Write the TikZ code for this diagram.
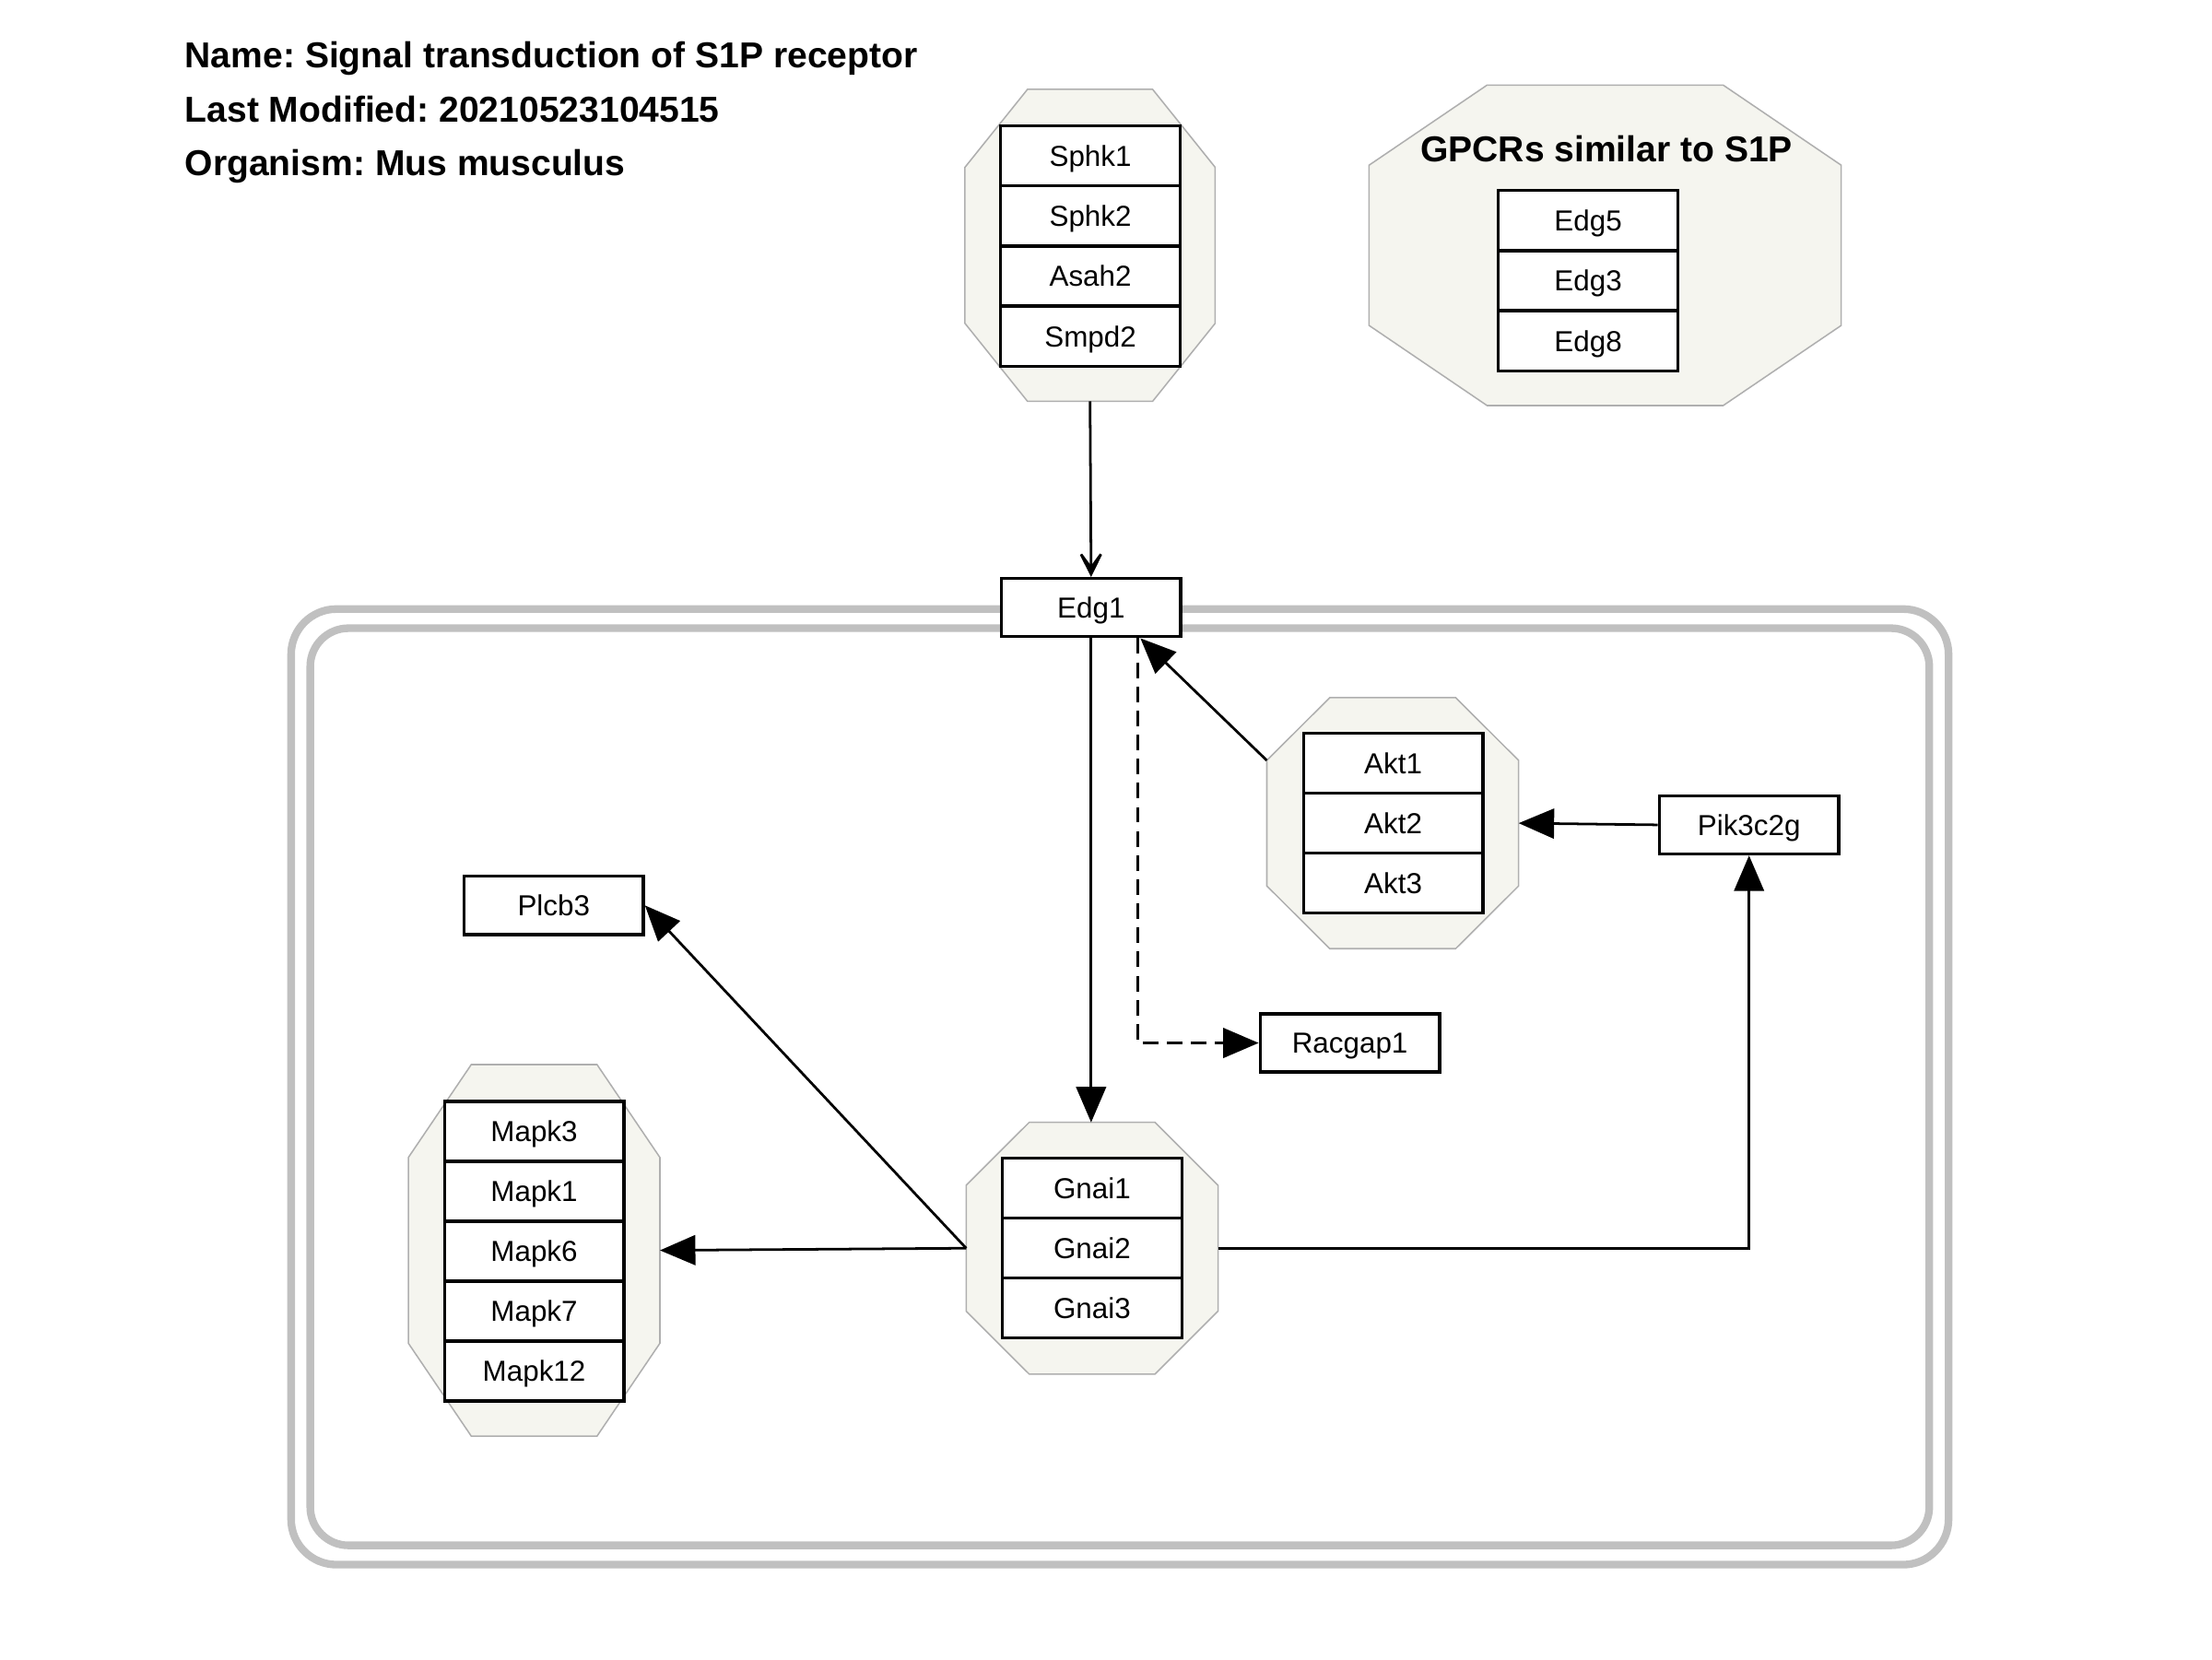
\documentclass[tikz,border=0pt]{standalone}
\usepackage{fontspec}
\setmainfont{Liberation Sans}
\usetikzlibrary{arrows.meta,calc}
\definecolor{membc}{RGB}{192,192,192}
\definecolor{cplxfill}{RGB}{245,245,239}
\definecolor{cplxline}{RGB}{175,175,175}
\newcommand\cplxoct[1]{%
  \path[draw=cplxline,fill=cplxfill,line width=1pt]
    ($(#1.north west)!0.25!(#1.north east)$) --
    ($(#1.north west)!0.75!(#1.north east)$) --
    ($(#1.north east)!0.25!(#1.south east)$) --
    ($(#1.north east)!0.75!(#1.south east)$) --
    ($(#1.south west)!0.75!(#1.south east)$) --
    ($(#1.south west)!0.25!(#1.south east)$) --
    ($(#1.north west)!0.75!(#1.south west)$) --
    ($(#1.north west)!0.25!(#1.south west)$) -- cycle;}
\tikzset{
  gene/.style={draw=black, fill=white, line width=2.2pt, minimum width=126.5pt,
    minimum height=42.3pt, inner sep=0pt, font=\fontsize{20.4}{24}\selectfont,
    text height=14.6pt, text depth=0pt},
  single/.style={gene, minimum height=41pt},
  cplx/.style={inner sep=0pt, outer sep=0pt},
  titletext/.style={anchor=base west, inner sep=0pt, font=\bfseries\fontsize{25.4}{30}\selectfont},
  act/.style={line width=1.8pt, -{Triangle[length=25pt,width=21pt]}},
  conv/.style={line width=1.8pt, -{Stealth[length=25pt,width=25pt,inset=17pt]}},
  memb/.style={draw=membc, line width=5.4pt},
}
\frenchspacing
\begin{document}
\begin{tikzpicture}[x=1pt,y=-1pt]
\useasboundingbox (0,0) rectangle (1560,1170);

% title
\node[titletext] (t1) at (130.3,48) {Name: Signal transduction of S1P receptor};
\node[titletext] (t2) at (130.3,86) {Last Modified: 20210523104515};
\node[titletext] (t3) at (130.3,124) {Organism: Mus musculus};

% membrane
\draw[memb, rounded corners=32pt] (205.3,429.5) rectangle (1374.2,1103.4);
\draw[memb, rounded corners=27pt] (218.8,443) rectangle (1360.6,1089.8);

% complexes
\node[cplx, minimum width=176.5pt, minimum height=220pt] (sphk) at (768.75,173) {};
\node[cplx, minimum width=333pt, minimum height=226pt] (gpcr) at (1132,173) {};
\node[cplx, minimum width=177.6pt, minimum height=177pt] (akt) at (982.2,580.5) {};
\node[cplx, minimum width=177.4pt, minimum height=262pt] (mapk) at (376.7,881.75) {};
\node[cplx, minimum width=177.6pt, minimum height=177.5pt] (gnai) at (770.2,880.25) {};
\cplxoct{sphk}
\cplxoct{gpcr}
\cplxoct{akt}
\cplxoct{mapk}
\cplxoct{gnai}

\node[anchor=base, inner sep=0pt, font=\bfseries\fontsize{25.4}{30}\selectfont] (gpcrlabel) at (1133,114) {GPCRs similar to S1P};

% Sphk complex members
\node[gene] (sphk1) at (769,109.7) {Sphk1};
\node[gene] (sphk2) at (769,152.2) {Sphk2};
\node[gene] (asah2) at (769,194.7) {Asah2};
\node[gene] (smpd2) at (769,237.2) {Smpd2};

% GPCR members
\node[gene] (edg5) at (1120,155.5) {Edg5};
\node[gene] (edg3) at (1120,198) {Edg3};
\node[gene] (edg8) at (1120,240.5) {Edg8};

% Akt members
\node[gene] (akt1) at (982.5,538.2) {Akt1};
\node[gene] (akt2) at (982.5,580.5) {Akt2};
\node[gene] (akt3) at (982.5,622.8) {Akt3};

% Mapk members
\node[gene] (mapk3) at (376.7,797.8) {Mapk3};
\node[gene] (mapk1) at (376.7,840.1) {Mapk1};
\node[gene] (mapk6) at (376.7,882.4) {Mapk6};
\node[gene] (mapk7) at (376.7,924.6) {Mapk7};
\node[gene] (mapk12) at (376.7,966.9) {Mapk12};

% Gnai members
\node[gene] (gnai1) at (770.2,837.9) {Gnai1};
\node[gene] (gnai2) at (770.2,880.2) {Gnai2};
\node[gene] (gnai3) at (770.2,922.5) {Gnai3};

% single genes
\node[single] (edg1) at (769.5,428.5) {Edg1};
\node[single] (pik) at (1233.5,581.7) {Pik3c2g};
\node[single] (racgap1) at (952,735.5) {Racgap1};
\node[single] (plcb3) at (390.5,638.5) {Plcb3};

% helper coordinates
\coordinate (dstart) at ($(edg1.south west)!0.755!(edg1.south east)$);
\coordinate (aktend) at ($(edg1.south west)!0.77!(edg1.south east)$);
\coordinate (aktc) at ($(akt.north west)!0.25!(akt.south west)$);

% connectors
\draw[conv] (sphk.south) -- (edg1.north);
\draw[act] (edg1.south) -- (edg1.south |- gnai.north);
\draw[act, dash pattern=on 11pt off 6pt] (dstart) |- (racgap1.west);
\draw[act] (aktc) -- (aktend);
\draw[act] (pik.west) -- (akt.east);
\draw[act] (gnai.east) -| (pik.south);
\draw[act] (gnai.west) -- (mapk.east);
\draw[act] (gnai.west) -- (plcb3.east);
\end{tikzpicture}
\end{document}
